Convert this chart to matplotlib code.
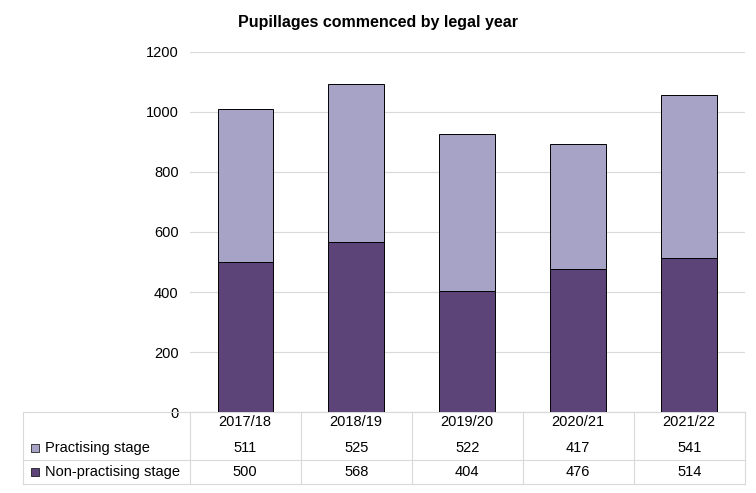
"""
pupillages commenced by legal year, stacked bars with a data table underneath
"""

import matplotlib.pyplot as plt
from matplotlib.patches import Rectangle

years = ["2017/18", "2018/19", "2019/20", "2020/21", "2021/22"]
non_practising = [500, 568, 404, 476, 514]
practising = [511, 525, 522, 417, 541]

dark = "#5C4479"
light = "#A7A3C6"
grid = "#D9D9D9"

plt.rcParams["font.family"] = "Liberation Sans"

fig = plt.figure(figsize=(7.56, 4.93), dpi=100)
ax = fig.add_axes([0.251, 0.164, 0.734, 0.731])

x = range(len(years))
ax.bar(x, non_practising, width=0.5, color=dark, edgecolor="black", linewidth=0.7, zorder=3)
ax.bar(x, practising, width=0.5, bottom=non_practising, color=light,
       edgecolor="black", linewidth=0.7, zorder=3)

ax.set_xlim(-0.5, len(years) - 0.5)
ax.set_ylim(0, 1200)
ax.set_yticks(range(0, 1201, 200))
ax.tick_params(axis="y", length=0, labelsize=10.5, pad=8)
ax.tick_params(axis="x", length=0, labelsize=10.5, pad=2)
ax.set_xticks(list(x))
ax.set_xticklabels(years)
ax.grid(axis="y", color=grid, linewidth=0.8, zorder=0)
for side in ["top", "right", "left"]:
    ax.spines[side].set_visible(False)
ax.spines["bottom"].set_color(grid)

fig.text(0.5, 0.955, "Pupillages commenced by legal year", ha="center", va="center",
         fontsize=11.5, fontweight="bold")

# data table under the chart
tr = ax.get_xaxis_transform()
row_y = [-0.1, -0.167]
line_y = [0.0, -0.134, -0.2]
left_x = -0.5 - 165 / 110  # data units back to about 25 px
rows = [("Practising stage", practising, light), ("Non-practising stage", non_practising, dark)]
for (label, vals, col), y in zip(rows, row_y):
    for i, v in enumerate(vals):
        ax.text(i, y, str(v), transform=tr, ha="center", va="center", fontsize=10.5, clip_on=False)
    ax.add_patch(Rectangle((left_x + 0.07, y - 0.011), 0.07, 0.022, transform=tr,
                           facecolor=col, edgecolor="black", linewidth=0.5, clip_on=False))
    ax.text(left_x + 0.2, y, label, transform=tr, ha="left", va="center", fontsize=10.5, clip_on=False)

for y in line_y:
    ax.plot([left_x, len(years) - 0.5], [y, y], transform=tr, color=grid, linewidth=0.8, clip_on=False)
for b in [-0.5 + i for i in range(len(years) + 1)] + [left_x]:
    ax.plot([b, b], [0, line_y[-1]], transform=tr, color=grid, linewidth=0.8, clip_on=False)

fig.savefig("out.png", dpi=100)
